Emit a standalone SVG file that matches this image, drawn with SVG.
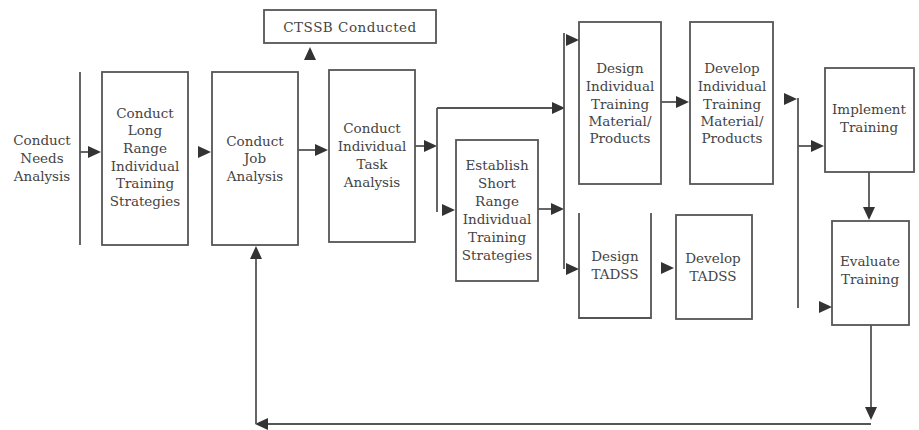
<svg xmlns="http://www.w3.org/2000/svg" xmlns:xlink="http://www.w3.org/1999/xlink" width="919" height="430" viewBox="0 0 919 430">
<style>
.box{fill:#fff;stroke:#555;stroke-width:1.8}
.ln{fill:none;stroke:#555;stroke-width:1.8}
text{font-family:"DejaVu Serif","Liberation Serif",serif;font-size:13.5px;fill:#444;text-anchor:middle}
</style>
<defs>
<path id="ah" d="M0,0 L-13,-6 L-13,6 Z" fill="#333"/>
</defs>
<rect width="919" height="430" fill="#fff"/>

<g id="needs">
<line class="ln" x1="80" y1="72" x2="80" y2="245"/>
<text x="42" y="145">Conduct</text>
<text x="42" y="163">Needs</text>
<text x="42" y="181">Analysis</text>
</g>

<g id="long-range">
<rect class="box" x="102" y="72" width="86" height="173"/>
<text x="145" y="118">Conduct</text>
<text x="145" y="135">Long</text>
<text x="145" y="153">Range</text>
<text x="145" y="171">Individual</text>
<text x="145" y="188">Training</text>
<text x="145" y="206">Strategies</text>
</g>

<g id="job-analysis">
<rect class="box" x="212" y="72" width="86" height="173"/>
<text x="255" y="146">Conduct</text>
<text x="255" y="163">Job</text>
<text x="255" y="181">Analysis</text>
</g>

<g id="ctssb">
<rect class="box" x="264" y="10" width="172" height="33"/>
<text x="350" y="32" letter-spacing="0.5">CTSSB Conducted</text>
</g>

<g id="task-analysis">
<rect class="box" x="329" y="70" width="86" height="172"/>
<text x="372" y="133">Conduct</text>
<text x="372" y="151">Individual</text>
<text x="372" y="169">Task</text>
<text x="372" y="187">Analysis</text>
</g>

<g id="short-range">
<rect class="box" x="456" y="140" width="82" height="141"/>
<text x="497" y="170">Establish</text>
<text x="497" y="188">Short</text>
<text x="497" y="206">Range</text>
<text x="497" y="224">Individual</text>
<text x="497" y="242">Training</text>
<text x="497" y="260">Strategies</text>
</g>

<g id="design-material">
<rect class="box" x="579" y="22" width="82" height="162"/>
<text x="620" y="73">Design</text>
<text x="620" y="91">Individual</text>
<text x="620" y="109">Training</text>
<text x="620" y="126">Material/</text>
<text x="620" y="143">Products</text>
</g>

<g id="develop-material">
<rect class="box" x="690" y="22" width="83" height="162"/>
<text x="732" y="73">Develop</text>
<text x="732" y="91">Individual</text>
<text x="732" y="109">Training</text>
<text x="732" y="126">Material/</text>
<text x="732" y="143">Products</text>
</g>

<g id="design-tadss">
<path class="ln" d="M579,213 V318 H651 V213"/>
<text x="615" y="261">Design</text>
<text x="615" y="279">TADSS</text>
</g>

<g id="develop-tadss">
<rect class="box" x="676" y="215" width="76" height="104"/>
<text x="713" y="263">Develop</text>
<text x="713" y="281">TADSS</text>
</g>

<g id="implement">
<rect class="box" x="825" y="68" width="89" height="104"/>
<text x="869" y="114">Implement</text>
<text x="869" y="132">Training</text>
</g>

<g id="evaluate">
<rect class="box" x="832" y="221" width="77" height="104"/>
<text x="870" y="266">Evaluate</text>
<text x="870" y="284">Training</text>
</g>

<g id="connectors">
<path class="ln" d="M80,152 H90"/>
<use xlink:href="#ah" transform="translate(101,152)"/>
<use xlink:href="#ah" transform="translate(211,152)"/>
<path class="ln" d="M298,150 H316"/>
<use xlink:href="#ah" transform="translate(328,150)"/>
<use xlink:href="#ah" transform="translate(310,47) rotate(-90)"/>
<path class="ln" d="M415,146 H426"/>
<use xlink:href="#ah" transform="translate(437,146)"/>
<path class="ln" d="M437,108 V212"/>
<path class="ln" d="M437,108 H553"/>
<use xlink:href="#ah" transform="translate(565,108)"/>
<use xlink:href="#ah" transform="translate(455,210)"/>
<path class="ln" d="M538,209 H551"/>
<use xlink:href="#ah" transform="translate(564,209)"/>
<path class="ln" d="M564,33 V269"/>
<use xlink:href="#ah" transform="translate(579,40)"/>
<use xlink:href="#ah" transform="translate(579,269)"/>
<path class="ln" d="M661,102 H676"/>
<use xlink:href="#ah" transform="translate(689,102)"/>
<use xlink:href="#ah" transform="translate(674,268)"/>
<use xlink:href="#ah" transform="translate(797,99)"/>
<path class="ln" d="M798,98 V308"/>
<path class="ln" d="M798,146 H812"/>
<use xlink:href="#ah" transform="translate(824,146)"/>
<path class="ln" d="M869,172 V207"/>
<use xlink:href="#ah" transform="translate(869,220) rotate(90)"/>
<use xlink:href="#ah" transform="translate(832,307)"/>
<path class="ln" d="M871,325 V408"/>
<use xlink:href="#ah" transform="translate(871,420) rotate(90)"/>
<path class="ln" d="M871,424 H266"/>
<use xlink:href="#ah" transform="translate(255,424) rotate(180)"/>
<path class="ln" d="M256,424 V259"/>
<use xlink:href="#ah" transform="translate(256,246) rotate(-90)"/>
</g>
</svg>
